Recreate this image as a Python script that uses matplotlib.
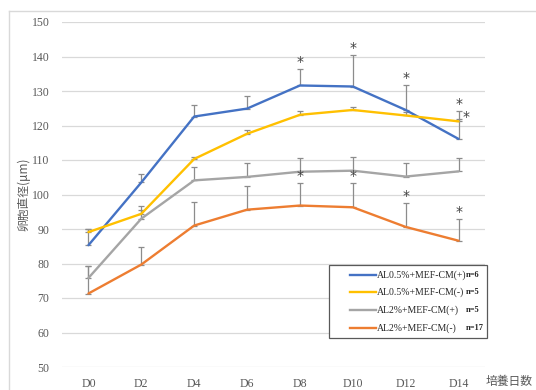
import matplotlib
matplotlib.use("Agg")
import matplotlib.pyplot as plt
from matplotlib.lines import Line2D
from matplotlib.patches import Rectangle

plt.rcParams['font.family'] = ['Liberation Serif', 'Noto Sans CJK JP', 'DejaVu Sans']

# Culture days
days = ["D0", "D2", "D4", "D6", "D8", "D10", "D12", "D14"]

# Mean follicle diameter (µm) per group
al05_cm_pos = [85.3, 103.5, 122.6, 124.9, 131.6, 131.3, 124.5, 116.1]
al05_cm_neg = [89.1, 94.4, 110.3, 117.6, 123.1, 124.5, 122.9, 121.2]
al2_cm_pos = [75.8, 93.0, 104.1, 105.1, 106.6, 106.9, 105.2, 106.7]
al2_cm_neg = [71.3, 79.7, 91.0, 95.6, 96.8, 96.3, 90.6, 86.6]

# Upper error (SD)
al05_cm_pos_err = [4.8, 2.4, 3.2, 3.7, 4.7, 9.1, 7.2, 5.9]
al05_cm_neg_err = [1.0, 2.4, 0.7, 1.1, 1.1, 0.8, 1.0, 3.1]
al2_cm_pos_err = [3.4, 2.6, 3.9, 3.9, 4.0, 3.9, 3.9, 4.0]
al2_cm_neg_err = [8.0, 5.1, 6.8, 6.9, 6.5, 6.9, 6.9, 6.4]

labels = ["AL0.5%+MEF-CM(+)", "AL0.5%+MEF-CM(-)", "AL2%+MEF-CM(+)", "AL2%+MEF-CM(-)"]
n_labels = ["n=6", "n=5", "n=5", "n=17"]
colors = ["#4472C4", "#FFC000", "#A5A5A5", "#ED7D31"]

y_ticks = [50, 60, 70, 80, 90, 100, 110, 120, 130, 140, 150]

# Significance marks: (day index, series index)
star_top = [(4, 0), (5, 0), (6, 0), (7, 1)]
star_bottom = [(4, 3), (5, 3), (6, 3), (7, 3)]

means = [al05_cm_pos, al05_cm_neg, al2_cm_pos, al2_cm_neg]
errs = [al05_cm_pos_err, al05_cm_neg_err, al2_cm_pos_err, al2_cm_neg_err]

W, H = 536, 390
fig = plt.figure(figsize=(W / 100, H / 100), dpi=100)
ax = fig.add_axes([62 / W, 1 - 367 / H, (485 - 62) / W, (367 - 22) / H])

x = list(range(len(days)))
grey_txt = "#595959"

for m, e, c in zip(means, errs, colors):
    ax.errorbar(x, m, yerr=[[0] * len(e), e], fmt="none", ecolor="#8c8c8c",
                elinewidth=0.9, capsize=2.3, capthick=0.9, zorder=2)
for m, c in zip(means, colors):
    ax.plot(x, m, color=c, lw=1.7, zorder=3, solid_capstyle="round")

def star(i, s, dx=0, dy=7):
    top = means[s][i] + errs[s][i]
    ax.annotate("*", xy=(i, top), xytext=(dx, dy), textcoords="offset pixels",
                ha="center", va="center", fontsize=10, color="#404040",
                family="DejaVu Sans", zorder=4)

for i, s in star_top:
    star(i, s)
for i, s in star_bottom:
    star(i, s)
# extra mark for AL0.5%+MEF-CM(-) on D14
ax.annotate("*", xy=(7, al05_cm_neg[7]), xytext=(7, 4), textcoords="offset pixels",
            ha="center", va="center", fontsize=10, color="#404040",
            family="DejaVu Sans", zorder=4)

ax.set_xlim(-0.5, len(days) - 0.5)
ax.set_ylim(50, 150)
ax.set_yticks(y_ticks)
ax.set_xticks(x)
ax.set_xticklabels(days)
ax.yaxis.grid(True, color="#d9d9d9", lw=0.9)
ax.set_axisbelow(True)
for sp in ax.spines.values():
    sp.set_visible(False)
ax.tick_params(length=0, colors=grey_txt, labelsize=8.5)
ax.tick_params(axis="y", pad=9)
ax.tick_params(axis="x", pad=8)

ax.set_ylabel("卵胞直径(μm)", family=["Noto Sans CJK JP", "DejaVu Sans"],
              color=grey_txt, fontsize=8.5, labelpad=1)
fig.text(486 / W, 1 - 381 / H, "培養日数", family=["Noto Sans CJK JP"],
         color=grey_txt, fontsize=8.5, ha="left", va="center")

# outer chart frame (top and left edges)
fig.add_artist(Line2D([9 / W, 1], [1 - 11 / H] * 2, color="#d9d9d9", lw=1.0))
fig.add_artist(Line2D([9 / W] * 2, [0, 1 - 11 / H], color="#d9d9d9", lw=1.0))

# legend box
lx0, ly0, lx1, ly1 = 329, 265, 487, 338
fig.add_artist(Rectangle((lx0 / W, 1 - ly1 / H), (lx1 - lx0) / W, (ly1 - ly0) / H,
                         facecolor="white", edgecolor="#595959", lw=0.9, zorder=5))
rows = [274.7, 292.3, 310.0, 327.7]
for ry, lab, nl, c in zip(rows, labels, n_labels, colors):
    fig.add_artist(Line2D([350 / W, 376 / W], [1 - ry / H] * 2, color=c, lw=1.7, zorder=6))
    fig.text(377 / W, 1 - ry / H, lab, fontsize=7, color="#262626",
             ha="left", va="center", zorder=6)
    fig.text(466 / W, 1 - ry / H, nl, fontsize=6, color="#262626", weight="bold",
             ha="left", va="center", zorder=6)

fig.savefig("out.png", dpi=100, facecolor="white")
